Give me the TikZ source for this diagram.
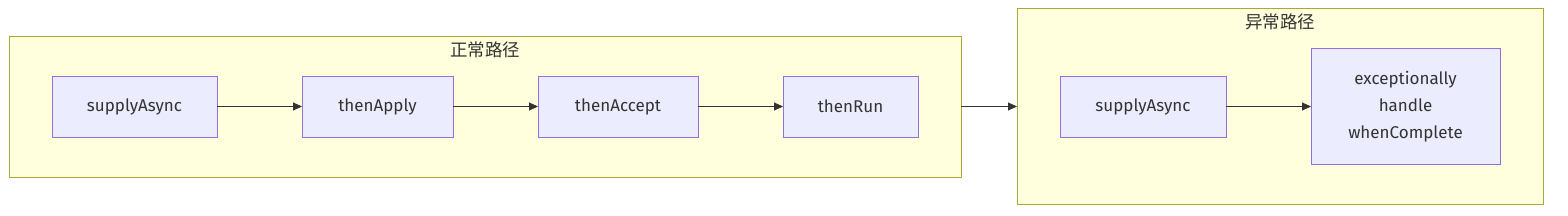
\documentclass[tikz,border=0pt]{standalone}
\usepackage{fontspec}
\setmainfont{Fira Sans}
\newfontfamily\cjk{Noto Sans CJK SC}
\usepackage{xcolor}
\usepackage{tikz}
\usetikzlibrary{positioning, fit, arrows.meta, backgrounds}
\definecolor{nodefill}{HTML}{ECECFF}
\definecolor{nodeline}{HTML}{9370DB}
\definecolor{groupfill}{HTML}{FFFFDE}
\definecolor{groupline}{HTML}{AAAA33}
\definecolor{edgeline}{HTML}{333333}

\begin{document}
\begin{tikzpicture}[node distance=85pt, font=\fontsize{17pt}{27pt}\selectfont, text=edgeline]
    \tikzstyle{proc} = [rectangle, draw=nodeline, fill=nodefill, line width=0.9pt, outer sep=0pt, minimum height=61pt, align=center]
    \tikzstyle{group} = [rectangle, draw=groupline, fill=groupfill, line width=0.9pt, outer sep=0pt, inner xsep=43pt, inner ysep=40pt]
    \tikzstyle{title} = [font=\cjk\fontsize{17.5pt}{20pt}\selectfont, below=2pt]
    \tikzstyle{arrow} = [line width=0.9pt, draw=edgeline, -{Triangle[length=9pt, width=8pt]}]

    \useasboundingbox (0,0) rectangle (1568pt,-216pt);

    % normal path
    \node (supply) [proc, minimum width=165pt] at (134.5pt,-106.5pt) {supplyAsync};
    \node (apply) [proc, minimum width=151pt, right=of supply] {thenApply};
    \node (accept) [proc, minimum width=160pt, right=of apply] {thenAccept};
    \node (run) [proc, minimum width=135pt, right=of accept] {thenRun};

    % error path
    \node (esupply) [proc, minimum width=166pt] at (1143pt,-106.5pt) {supplyAsync};
    \node (handle) [proc, minimum width=189pt, minimum height=116pt, right=of esupply] {exceptionally\\handle\\whenComplete};

    \begin{scope}[on background layer]
        \node (normal) [group, fit=(supply) (run)] {};
        \node (error) [group, fit=(esupply) (handle)] {};
    \end{scope}
    \node [title] at (normal.north) {正常路径};
    \node [title] at (error.north) {异常路径};

    \draw [arrow] (supply) -- (apply);
    \draw [arrow] (apply) -- (accept);
    \draw [arrow] (accept) -- (run);
    \draw [arrow] (esupply) -- (handle);
    \draw [arrow] (normal) -- (error);
\end{tikzpicture}
\end{document}
